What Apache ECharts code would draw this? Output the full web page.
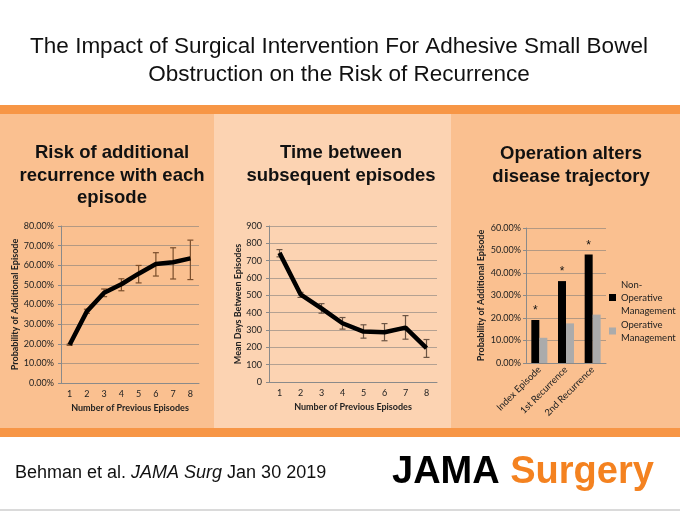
<!DOCTYPE html>
<html>
<head>
<meta charset="utf-8">
<script src="https://cdn.jsdelivr.net/npm/echarts@6/dist/echarts.min.js"></script>
<style>
  html, body { margin: 0; padding: 0; background: #fff; }
  #main { width: 680px; height: 512px; }
</style>
</head>
<body>
<div id="main"></div>
<script>
// --- data ---
const episodes = ['1', '2', '3', '4', '5', '6', '7', '8'];

// risk of additional recurrence (%)
const riskVals = [19.5, 36.5, 46, 50.3, 55.7, 60.6, 61.5, 63.5];
const riskLow = [19.2, 35.5, 44, 47, 51, 54.5, 53, 52.7];
const riskHigh = [19.8, 37.6, 47.9, 53.1, 59.9, 66.4, 68.9, 72.8];

// mean days between episodes
const daysVals = [745, 506, 425, 339, 291, 287, 314, 195];
const daysLow = [722, 488, 397, 305, 253, 238, 247, 142];
const daysHigh = [764, 517, 452, 372, 330, 337, 383, 245];

// operation vs not
const stages = ['Index Episode', '1st Recurrence', '2nd Recurrence'];
const nonOperative = [19.1, 36.4, 48.2];
const operative = [11.2, 17.6, 21.5];

const pctTicks = v => v.toFixed(2) + '%';

const FONT = 'Lato, "Open Sans", sans-serif';
const ARIAL = '"Liberation Sans", Arial, sans-serif';
const gridLine = { lineStyle: { color: 'rgba(120,120,120,0.55)', width: 1 } };
const axisLine = { lineStyle: { color: '#8a8a8a', width: 1 } };
const labelStyle = { color: '#222', fontSize: 9, fontFamily: FONT };
const nameStyle = { color: '#222', fontSize: 9, fontWeight: 'bold', fontFamily: FONT };

function errorBars(low, high) {
  return low.map((l, i) => [i, l, high[i]]);
}

function errRender(color) {
  return function (params, api) {
    const x = api.value(0);
    const lo = api.coord([x, api.value(1)]);
    const hi = api.coord([x, api.value(2)]);
    const w = 3;
    const st = { stroke: color, lineWidth: 1.2 };
    return {
      type: 'group',
      children: [
        { type: 'line', shape: { x1: lo[0], y1: lo[1], x2: hi[0], y2: hi[1] }, style: st },
        { type: 'line', shape: { x1: lo[0] - w, y1: lo[1], x2: lo[0] + w, y2: lo[1] }, style: st },
        { type: 'line', shape: { x1: hi[0] - w, y1: hi[1], x2: hi[0] + w, y2: hi[1] }, style: st }
      ]
    };
  };
}

function txt(x, y, text, size, weight) {
  return {
    type: 'text', x: x, y: y, z: 10,
    style: {
      text: text, fill: '#111', font: (weight || 'normal') + ' ' + size + 'px ' + ARIAL,
      textAlign: 'center', textVerticalAlign: 'middle'
    }
  };
}

const chart = echarts.init(document.getElementById('main'));

const option = {
  animation: false,
  backgroundColor: '#fff',
  graphic: [
    // background bands
    { type: 'rect', z: -10, shape: { x: 0, y: 105, width: 680, height: 9 }, style: { fill: '#F79646' } },
    { type: 'rect', z: -10, shape: { x: 0, y: 114, width: 214, height: 314 }, style: { fill: '#FAC090' } },
    { type: 'rect', z: -10, shape: { x: 214, y: 114, width: 237, height: 314 }, style: { fill: '#FCD3B2' } },
    { type: 'rect', z: -10, shape: { x: 451, y: 114, width: 229, height: 314 }, style: { fill: '#FAC090' } },
    { type: 'rect', z: -10, shape: { x: 0, y: 428, width: 680, height: 9 }, style: { fill: '#F79646' } },
    { type: 'rect', z: -10, shape: { x: 0, y: 509, width: 680, height: 2 }, style: { fill: '#DADADA' } },
    // titles
    txt(339, 47, 'The Impact of Surgical Intervention For Adhesive Small Bowel', 22.5),
    txt(339, 75, 'Obstruction on the Risk of Recurrence', 22.5),
    txt(112, 153, 'Risk of additional', 18.5, 'bold'),
    txt(112, 175.5, 'recurrence with each', 18.5, 'bold'),
    txt(112, 198, 'episode', 18.5, 'bold'),
    txt(341, 153, 'Time between', 18.5, 'bold'),
    txt(341, 175.5, 'subsequent episodes', 18.5, 'bold'),
    txt(571, 154, 'Operation alters', 18.5, 'bold'),
    txt(571, 177, 'disease trajectory', 18.5, 'bold'),
    // footer
    {
      type: 'text', x: 15, y: 473, z: 10,
      style: {
        text: '{a|Behman et al. }{b|JAMA Surg}{a| Jan 30 2019}',
        textVerticalAlign: 'middle',
        rich: {
          a: { fontSize: 18, fontFamily: ARIAL, fill: '#111' },
          b: { fontSize: 18, fontFamily: ARIAL, fontStyle: 'italic', fill: '#111' }
        }
      }
    },
    {
      type: 'text', x: 392, y: 473, z: 10,
      style: {
        text: '{a|JAMA }{b|Surgery}',
        textVerticalAlign: 'middle',
        rich: {
          a: { fontSize: 38, fontWeight: 'bold', fontFamily: ARIAL, fill: '#000' },
          b: { fontSize: 38, fontWeight: 'bold', fontFamily: ARIAL, fill: '#F48220' }
        }
      }
    }
  ],
  legend: {
    data: ['Non-Operative Management', 'Operative Management'],
    orient: 'vertical',
    left: 609,
    top: 278,
    padding: 0,
    itemWidth: 7,
    itemHeight: 7,
    itemGap: 1,
    icon: 'rect',
    formatter: n => n === 'Non-Operative Management' ? 'Non-\nOperative\nManagement' : 'Operative\nManagement',
    textStyle: { fontSize: 9.5, lineHeight: 13, color: '#222', fontFamily: FONT }
  },
  grid: [
    { left: 61, top: 226, width: 138, height: 157 },
    { left: 269, top: 226, width: 168, height: 156 },
    { left: 526, top: 228, width: 80, height: 135 }
  ],
  xAxis: [
    {
      gridIndex: 0, type: 'category', data: episodes,
      axisLine: axisLine, axisTick: { length: 4, lineStyle: { color: '#8a8a8a' } },
      axisLabel: Object.assign({ margin: 7 }, labelStyle),
      name: 'Number of Previous Episodes', nameLocation: 'middle', nameGap: 21, nameTextStyle: nameStyle
    },
    {
      gridIndex: 1, type: 'category', data: episodes,
      axisLine: axisLine, axisTick: { length: 4, lineStyle: { color: '#8a8a8a' } },
      axisLabel: Object.assign({ margin: 7 }, labelStyle),
      name: 'Number of Previous Episodes', nameLocation: 'middle', nameGap: 21, nameTextStyle: nameStyle
    },
    {
      gridIndex: 2, type: 'category', data: stages,
      axisLine: axisLine, axisTick: { length: 4, lineStyle: { color: '#8a8a8a' } },
      axisLabel: Object.assign({ margin: 5, rotate: 45, interval: 0 }, labelStyle, { fontSize: 9.5 })
    }
  ],
  yAxis: [
    {
      gridIndex: 0, type: 'value', min: 0, max: 80, interval: 10,
      axisLine: Object.assign({ show: true }, axisLine), axisTick: { show: true, length: 3, lineStyle: { color: '#8a8a8a' } },
      splitLine: gridLine,
      axisLabel: Object.assign({ margin: 7, formatter: pctTicks }, labelStyle),
      name: 'Probability of Additional Episode', nameLocation: 'middle', nameGap: 40, nameTextStyle: nameStyle
    },
    {
      gridIndex: 1, type: 'value', min: 0, max: 900, interval: 100,
      axisLine: Object.assign({ show: true }, axisLine), axisTick: { show: true, length: 3, lineStyle: { color: '#8a8a8a' } },
      splitLine: gridLine,
      axisLabel: Object.assign({ margin: 7 }, labelStyle),
      name: 'Mean Days Between Episodes', nameLocation: 'middle', nameGap: 26, nameTextStyle: nameStyle
    },
    {
      gridIndex: 2, type: 'value', min: 0, max: 60, interval: 10,
      axisLine: Object.assign({ show: true }, axisLine), axisTick: { show: true, length: 3, lineStyle: { color: '#8a8a8a' } },
      splitLine: gridLine,
      axisLabel: Object.assign({ margin: 5, formatter: pctTicks }, labelStyle),
      name: 'Probability of Additional Episode', nameLocation: 'middle', nameGap: 40, nameTextStyle: nameStyle
    }
  ],
  series: [
    {
      type: 'custom', xAxisIndex: 0, yAxisIndex: 0, z: 1,
      renderItem: errRender('#7A4E2C'),
      data: errorBars(riskLow, riskHigh)
    },
    {
      type: 'line', xAxisIndex: 0, yAxisIndex: 0, z: 3,
      data: riskVals, showSymbol: false, symbol: 'none',
      lineStyle: { color: '#000', width: 4.5 }
    },
    {
      type: 'custom', xAxisIndex: 1, yAxisIndex: 1, z: 1,
      renderItem: errRender('#6B5444'),
      data: errorBars(daysLow, daysHigh)
    },
    {
      type: 'line', xAxisIndex: 1, yAxisIndex: 1, z: 3,
      data: daysVals, showSymbol: false, symbol: 'none',
      lineStyle: { color: '#000', width: 4.5 }
    },
    {
      name: 'Non-Operative Management', type: 'bar', xAxisIndex: 2, yAxisIndex: 2,
      data: nonOperative, barWidth: 8, barGap: 0,
      itemStyle: { color: '#000' },
      label: { show: true, position: 'top', distance: 3, formatter: '*', fontSize: 12, color: '#111', fontFamily: ARIAL }
    },
    {
      name: 'Operative Management', type: 'bar', xAxisIndex: 2, yAxisIndex: 2,
      data: operative, barWidth: 8, barGap: 0,
      itemStyle: { color: '#ABABAB' }
    }
  ]
};

chart.setOption(option);
</script>
</body>
</html>
